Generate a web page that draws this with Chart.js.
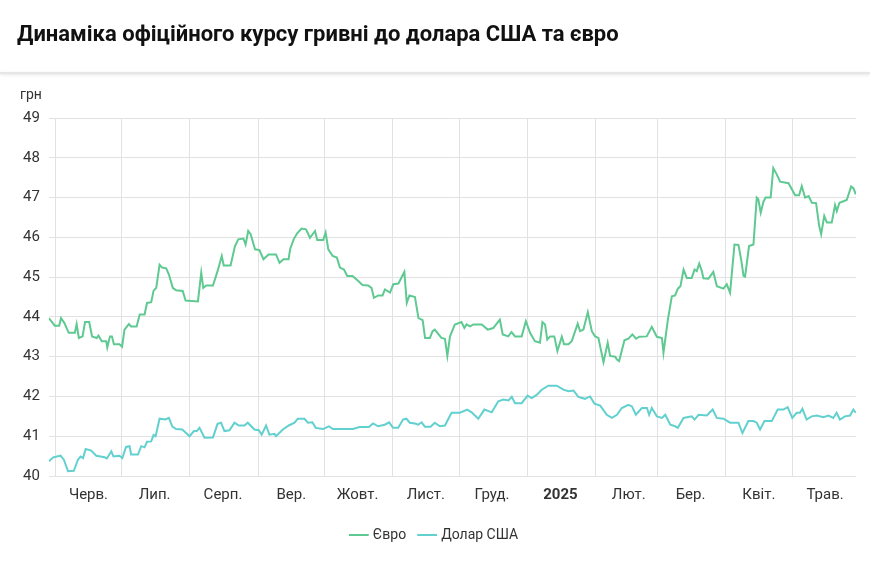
<!DOCTYPE html>
<html><head><meta charset="utf-8">
<script src="https://cdn.jsdelivr.net/npm/chart.js@4"></script>
<style>
body{margin:0;background:#fff;font-family:Roboto,"Noto Sans",sans-serif;}
#t{position:absolute;left:17px;top:21px;font-size:22px;font-weight:bold;color:#111;}
#sep{position:absolute;left:0;top:72px;width:870px;height:2px;background:#e6e6e6;box-shadow:0 1px 3px rgba(0,0,0,0.12);}
#u{position:absolute;left:20px;top:86px;font-size:14px;color:#333;}
#w{position:absolute;left:0;top:0;width:870px;height:582px;}
</style></head><body>
<div id="w"><canvas id="c"></canvas></div>
<div id="t">Динаміка офіційного курсу гривні до долара США та євро</div>
<div id="sep"></div>
<div id="u">грн</div>
<script>
const monthTickDays=[3,33,64,95,125,156,186,217,248,276,307,337];
const monthLabels=["Черв.","Лип.","Серп.","Вер.","Жовт.","Лист.","Груд.","2025","Лют.","Бер.","Квіт.","Трав."];
const yTicks=[40,41,42,43,44,45,46,47,48,49];
const eurDays=[0,2.7,4.7,5.5,7,9,11.8,12.6,13.6,15.3,16.4,18.3,19.6,21.7,22.5,24,26,26.5,27.7,28.6,29.5,32,33.2,34.3,36.3,37.3,39.8,41.2,43.4,44.5,46.4,47.5,48.7,50.2,51.4,53.2,54.4,56.2,57.7,60.7,62,67.6,69.1,70,71.4,74.4,76.5,78.4,79.3,82.4,84.4,85.9,88.2,89.2,90.4,91.5,93.5,95.5,97.3,99.6,103,104.6,106.4,108.7,109.4,111,112.6,114.6,116.6,118.4,120.7,121.7,124.4,125.5,126.7,128.7,130.6,132,133.8,135.3,137.7,140.3,142.2,144.8,146.3,147.4,149.4,151.3,152.4,154.7,156.2,158.5,161.2,162.3,163.5,166,167.6,169.5,170.6,172.8,174,
175,178,179.6,180.7,181.9,184.1,187.1,188.4,189.4,191,192.5,196.3,199,201.5,204.5,205.8,208.3,209.8,211.4,214.4,216.3,218.2,220.4,222.7,223.8,225,226,227.3,229.2,230.6,232.6,233.6,235.6,237.1,239.8,240.9,242.4,244.4,246.2,247.7,249.2,251.5,253.4,254.5,256.8,257.6,258.6,261,262.8,264.6,266.3,267.7,271.1,273.4,275.7,278,278.7,280.7,282.5,284,285.2,286.4,287.8,289.3,291.5,292.8,293.8,294.9,296.1,296.8,299.1,301.3,302.9,305.9,307.4,308.9,310.9,312.7,313.9,315,315.7,317.5,319.5,321,321.7,322.8,324,325,327.3,328.5,330,331.6,335.4,338.4,340.2,341.4,342.9,344.5,346,347.9,349.3,350.2,351.6,352.8,355,356.5,357.3,358.5,361.8,363.8,364.9,365.9];
const eurValues=[43.97,43.78,43.78,43.97,43.85,43.60,43.60,43.82,43.47,43.51,43.87,43.87,43.51,43.47,43.53,43.39,43.39,43.23,43.51,43.51,43.31,43.31,43.25,43.68,43.82,43.76,43.76,44.06,44.06,44.35,44.37,44.66,44.73,45.31,45.24,45.22,45.07,44.73,44.67,44.65,44.41,44.39,45.11,44.73,44.79,44.79,45.15,45.53,45.29,45.29,45.78,45.95,45.97,45.82,46.16,46.08,45.70,45.68,45.45,45.57,45.57,45.36,45.45,45.45,45.70,45.95,46.10,46.22,46.20,45.99,46.16,45.93,45.93,46.12,45.70,45.53,45.49,45.24,45.19,45.03,45.03,44.90,44.80,44.79,44.73,44.48,44.54,44.54,44.69,44.61,44.82,44.84,45.13,44.35,44.54,44.50,43.97,43.92,43.47,43.47,43.64,
43.68,43.47,43.45,43.02,43.51,43.81,43.87,43.72,43.81,43.76,43.81,43.81,43.68,43.72,43.93,43.56,43.51,43.62,43.51,43.51,43.89,43.60,43.39,43.35,43.87,43.81,43.43,43.51,43.51,43.14,43.50,43.31,43.31,43.39,43.83,43.64,43.68,44.12,43.64,43.51,43.47,42.86,43.35,43.02,43.00,42.93,42.89,43.41,43.45,43.56,43.45,43.50,43.51,43.75,43.50,43.47,43.10,43.93,44.52,44.54,44.71,44.77,45.19,44.98,44.98,45.19,45.15,45.34,45.15,44.97,44.96,45.13,44.77,44.71,44.82,44.61,45.82,45.81,45.45,45.03,45.01,45.78,45.82,47.00,46.96,46.62,46.89,47.00,47.00,47.74,47.59,47.40,47.36,47.06,47.06,47.29,47.00,47.04,46.87,46.86,46.29,46.08,46.54,46.37,46.37,46.81,46.66,46.87,46.94,47.28,47.23,47.08];
const usdDays=[0,2,5.3,6.8,8.7,11.3,13.2,14.4,15.5,16.7,19.2,21.5,25.3,26.3,28.3,29.3,32,33.3,35,36.6,37.3,40.4,41.9,43.4,44.5,46.4,47.5,48.4,50.2,52.9,54.4,56,57.7,60.5,63.8,65.8,67.1,68.3,70.6,74.4,76.5,78.1,79.6,81.9,84.2,86.1,88.7,90.2,93.2,95.2,96.5,98.5,100,102.3,103,106.1,108.8,111.4,112.9,115.9,117.5,119.5,121,124.3,127,128.8,133.4,137.9,140.9,145.1,147,149.3,152.3,154.3,156.1,158.4,160.6,162.1,163.7,166,167.5,169,170.5,173.1,
175,177.3,179.6,182.6,186.4,189.7,191.7,194.7,197.5,200.8,203.8,206.1,208.4,209.9,211.4,214.4,217.1,218.9,221.2,223.5,226.5,230.3,233.3,235.6,237.9,240.1,243.1,245.4,247.4,250,253,255.3,257.6,259.8,262.8,264.4,266.2,268.9,271.2,272.2,273.4,275.7,278,279.5,281.8,284,285.2,287.8,291.5,292.8,294.6,298.4,301,302.9,305.9,308.9,312.7,314.5,317.2,319.5,321,322.5,324.5,327.8,330.5,333.1,335,337.1,339.1,340.6,341.7,343.6,345.9,348.2,351.2,353.5,355.7,357.2,358.7,361,363.3,364.8,365.9];
const usdValues=[40.37,40.47,40.51,40.41,40.12,40.13,40.41,40.49,40.45,40.68,40.64,40.51,40.47,40.44,40.62,40.49,40.51,40.45,40.73,40.75,40.54,40.54,40.75,40.72,40.86,40.87,41.03,41.00,41.44,41.42,41.46,41.24,41.18,41.17,41.00,41.13,41.13,41.21,40.96,40.97,41.31,41.34,41.13,41.15,41.34,41.27,41.27,41.34,41.17,41.15,41.04,41.27,41.04,41.06,41.00,41.17,41.27,41.34,41.44,41.44,41.34,41.35,41.21,41.18,41.25,41.18,41.18,41.18,41.23,41.23,41.32,41.25,41.29,41.35,41.21,41.21,41.42,41.44,41.34,41.32,41.29,41.35,41.24,41.24,
41.34,41.25,41.27,41.59,41.59,41.67,41.60,41.44,41.67,41.60,41.88,41.92,41.90,41.99,41.83,41.83,42.02,41.96,42.04,42.17,42.27,42.27,42.17,42.13,42.15,41.99,41.94,42.00,41.82,41.77,41.54,41.46,41.54,41.71,41.79,41.75,41.54,41.71,41.71,41.54,41.71,41.50,41.46,41.54,41.29,41.25,41.21,41.46,41.50,41.42,41.54,41.52,41.67,41.46,41.44,41.34,41.34,41.08,41.38,41.38,41.34,41.17,41.38,41.38,41.67,41.67,41.73,41.46,41.59,41.59,41.69,41.42,41.50,41.52,41.48,41.52,41.46,41.59,41.42,41.50,41.52,41.67,41.59];

const pts=(d,v)=>d.map((x,i)=>({x:x,y:v[i]}));
new Chart(document.getElementById('c'),{
 type:'line',
 data:{datasets:[
  {label:'Євро',data:pts(eurDays,eurValues),borderColor:'#5ec991',backgroundColor:'#5ec991',borderWidth:2,pointRadius:0,tension:0},
  {label:'Долар США',data:pts(usdDays,usdValues),borderColor:'#62d0cf',backgroundColor:'#62d0cf',borderWidth:2,pointRadius:0,tension:0}
 ]},
 options:{
  responsive:true,maintainAspectRatio:false,animation:false,
  layout:{padding:{left:14,right:14,top:118,bottom:30}},
  plugins:{tooltip:{enabled:false},
   legend:{position:'bottom',labels:{usePointStyle:true,pointStyle:'line',boxWidth:24,color:'#333',font:{size:14,family:'Roboto'},padding:14}}},
  scales:{
   x:{type:'linear',min:0,max:366,
    afterBuildTicks:a=>{a.ticks=monthTickDays.map(v=>({value:v}));},
    grid:{color:'#e2e2e2',drawTicks:false},border:{display:false},
    ticks:{autoSkip:false,maxRotation:0,labelOffset:33,padding:10,color:'#333',
     callback:(v,i)=>monthLabels[i],
     font:c=>({size:15,family:'Roboto',weight:c.index===7?'bold':'normal'})}},
   y:{min:40,max:49,
    afterBuildTicks:a=>{a.ticks=yTicks.map(v=>({value:v}));},
    grid:{color:'#e2e2e2',drawTicks:false},border:{display:false},
    ticks:{color:'#333',padding:9,font:{size:15,family:'Roboto'}}}
  }
 }
});
</script></body></html>
